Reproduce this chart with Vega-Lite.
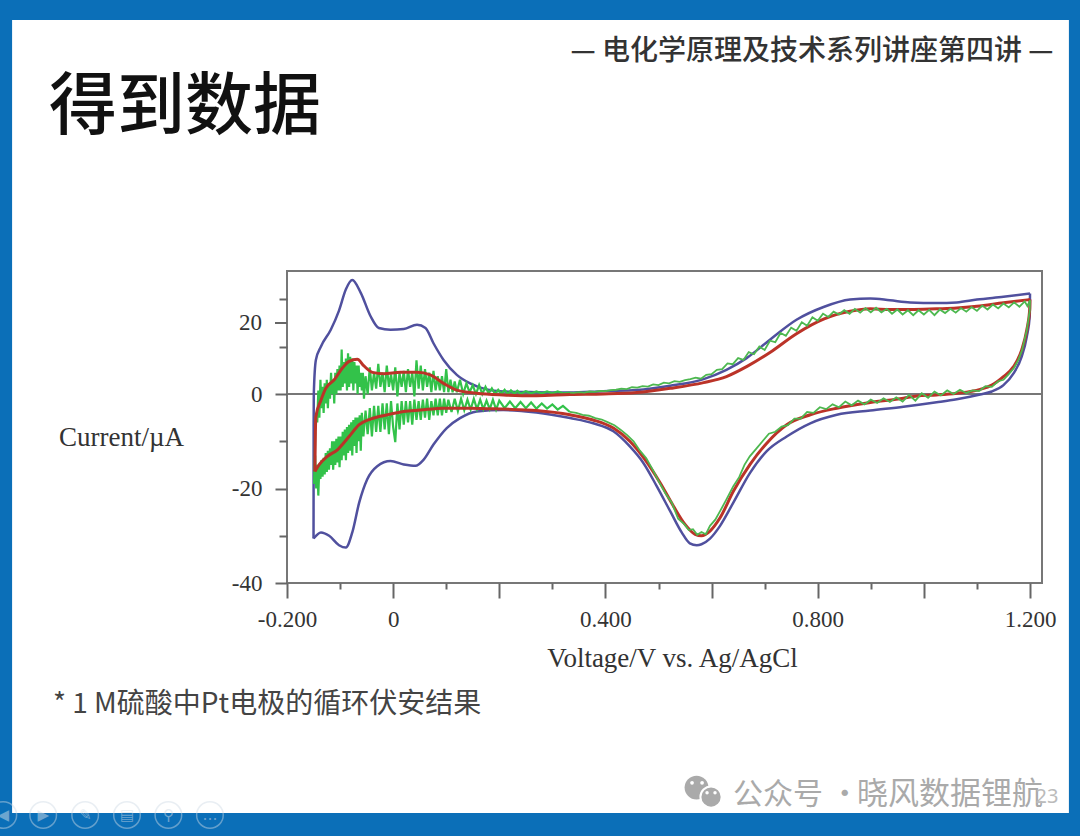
{
"$schema":"https://vega.github.io/schema/vega-lite/v6.json",
"width":755,"height":312,
"autosize":{"type":"none"},
"padding":{"left":287,"top":271,"right":38,"bottom":253},
"background":"#0b6fb8",
"config":{"view":{"stroke":null}},
"datasets":{
"one":[{"a":1}],
"blue":[
{"sweep":"up","v":-0.15,"i":-30.6},{"sweep":"up","v":-0.1499,"i":-20.9},{"sweep":"up","v":-0.1498,"i":-6.9},{"sweep":"up","v":-0.1495,"i":0},{"sweep":"up","v":-0.1456,"i":9.6},{"sweep":"up","v":-0.136,"i":13.4},{"sweep":"up","v":-0.1175,"i":18.1},{"sweep":"up","v":-0.102,"i":23.5},{"sweep":"up","v":-0.089,"i":29.5},{"sweep":"up","v":-0.077,"i":32.1},{"sweep":"up","v":-0.061,"i":28.5},{"sweep":"up","v":-0.0425,"i":21.9},{"sweep":"up","v":-0.027,"i":18.6},{"sweep":"up","v":-0.005,"i":18.1},{"sweep":"up","v":0.02,"i":18.3},{"sweep":"up","v":0.045,"i":19.5},{"sweep":"up","v":0.061,"i":18.6},{"sweep":"up","v":0.076,"i":14.3},{"sweep":"up","v":0.095,"i":9.6},{"sweep":"up","v":0.12,"i":5.4},{"sweep":"up","v":0.145,"i":3},{"sweep":"up","v":0.176,"i":1.3},{"sweep":"up","v":0.2075,"i":0.7},{"sweep":"up","v":0.27,"i":0.5},{"sweep":"up","v":0.3333,"i":0.4},{"sweep":"up","v":0.396,"i":0.8},{"sweep":"up","v":0.459,"i":1.1},{"sweep":"up","v":0.522,"i":2.3},{"sweep":"up","v":0.585,"i":4.2},{"sweep":"up","v":0.628,"i":6.8},{"sweep":"up","v":0.666,"i":10.1},{"sweep":"up","v":0.71,"i":15.3},{"sweep":"up","v":0.76,"i":20.9},{"sweep":"up","v":0.811,"i":24.5},{"sweep":"up","v":0.861,"i":26.6},{"sweep":"up","v":0.899,"i":26.9},{"sweep":"up","v":0.936,"i":26.4},{"sweep":"up","v":0.974,"i":25.8},{"sweep":"up","v":1.024,"i":25.6},{"sweep":"up","v":1.062,"i":25.8},{"sweep":"up","v":1.1,"i":26.6},{"sweep":"up","v":1.15,"i":27.4},{"sweep":"up","v":1.2,"i":28.3},
{"sweep":"down","v":-0.15,"i":-30.6},{"sweep":"down","v":-0.136,"i":-29.3},{"sweep":"down","v":-0.1206,"i":-30},{"sweep":"down","v":-0.102,"i":-32},{"sweep":"down","v":-0.089,"i":-32.5},{"sweep":"down","v":-0.077,"i":-29.3},{"sweep":"down","v":-0.064,"i":-23},{"sweep":"down","v":-0.049,"i":-18.1},{"sweep":"down","v":-0.03,"i":-15.3},{"sweep":"down","v":-0.005,"i":-14.2},{"sweep":"down","v":0.02,"i":-14.9},{"sweep":"down","v":0.042,"i":-15.2},{"sweep":"down","v":0.0575,"i":-13.9},{"sweep":"down","v":0.076,"i":-10.7},{"sweep":"down","v":0.101,"i":-7.2},{"sweep":"down","v":0.126,"i":-5.1},{"sweep":"down","v":0.1575,"i":-3.7},{"sweep":"down","v":0.2075,"i":-3.4},{"sweep":"down","v":0.27,"i":-3.9},{"sweep":"down","v":0.3333,"i":-5.1},{"sweep":"down","v":0.377,"i":-6.2},{"sweep":"down","v":0.415,"i":-7.9},{"sweep":"down","v":0.446,"i":-11.1},{"sweep":"down","v":0.4715,"i":-14.6},{"sweep":"down","v":0.4966,"i":-19.5},{"sweep":"down","v":0.522,"i":-24.8},{"sweep":"down","v":0.5437,"i":-29.3},{"sweep":"down","v":0.559,"i":-31.6},{"sweep":"down","v":0.572,"i":-32},{"sweep":"down","v":0.581,"i":-31.8},{"sweep":"down","v":0.597,"i":-30.6},{"sweep":"down","v":0.616,"i":-27.9},{"sweep":"down","v":0.641,"i":-23},{"sweep":"down","v":0.6725,"i":-16.7},{"sweep":"down","v":0.704,"i":-12.1},{"sweep":"down","v":0.7416,"i":-9},{"sweep":"down","v":0.786,"i":-6.2},{"sweep":"down","v":0.836,"i":-4.4},{"sweep":"down","v":0.899,"i":-3.5},{"sweep":"down","v":0.9615,"i":-2.7},{"sweep":"down","v":1.024,"i":-1.75},{"sweep":"down","v":1.062,"i":-1.1},{"sweep":"down","v":1.106,"i":-0.1},{"sweep":"down","v":1.128,"i":0.7},{"sweep":"down","v":1.15,"i":2.5},{"sweep":"down","v":1.169,"i":5.8},{"sweep":"down","v":1.1845,"i":10.6},{"sweep":"down","v":1.194,"i":16.2},{"sweep":"down","v":1.1995,"i":21.9},{"sweep":"down","v":1.2,"i":28.3}
],
"red":[
{"sweep":"up","v":-0.1475,"i":-16.4},{"sweep":"up","v":-0.1465,"i":-8},{"sweep":"up","v":-0.1456,"i":-4.8},{"sweep":"up","v":-0.136,"i":-1.3},{"sweep":"up","v":-0.127,"i":1.6},{"sweep":"up","v":-0.111,"i":4},{"sweep":"up","v":-0.0956,"i":7.3},{"sweep":"up","v":-0.083,"i":9.2},{"sweep":"up","v":-0.0675,"i":9.8},{"sweep":"up","v":-0.055,"i":7.9},{"sweep":"up","v":-0.039,"i":6.1},{"sweep":"up","v":-0.0175,"i":5.7},{"sweep":"up","v":0.014,"i":6.1},{"sweep":"up","v":0.045,"i":6.1},{"sweep":"up","v":0.07,"i":5.4},{"sweep":"up","v":0.095,"i":3},{"sweep":"up","v":0.12,"i":1.1},{"sweep":"up","v":0.1575,"i":0.2},{"sweep":"up","v":0.2075,"i":-0.2},{"sweep":"up","v":0.27,"i":-0.35},{"sweep":"up","v":0.3333,"i":-0.1},{"sweep":"up","v":0.396,"i":0},{"sweep":"up","v":0.459,"i":0.4},{"sweep":"up","v":0.522,"i":1.6},{"sweep":"up","v":0.585,"i":3.2},{"sweep":"up","v":0.628,"i":4.9},{"sweep":"up","v":0.666,"i":7.7},{"sweep":"up","v":0.71,"i":11.7},{"sweep":"up","v":0.76,"i":17},{"sweep":"up","v":0.811,"i":21.1},{"sweep":"up","v":0.861,"i":23.3},{"sweep":"up","v":0.899,"i":24},{"sweep":"up","v":0.936,"i":23.8},{"sweep":"up","v":0.974,"i":23.8},{"sweep":"up","v":1.024,"i":24},{"sweep":"up","v":1.062,"i":24.2},{"sweep":"up","v":1.1,"i":24.7},{"sweep":"up","v":1.15,"i":25.7},{"sweep":"up","v":1.2,"i":26.6},
{"sweep":"down","v":-0.1475,"i":-16.4},{"sweep":"down","v":-0.139,"i":-14.9},{"sweep":"down","v":-0.124,"i":-13.2},{"sweep":"down","v":-0.105,"i":-11.8},{"sweep":"down","v":-0.083,"i":-9},{"sweep":"down","v":-0.064,"i":-6.5},{"sweep":"down","v":-0.0425,"i":-5.3},{"sweep":"down","v":-0.011,"i":-4.4},{"sweep":"down","v":0.02,"i":-3.7},{"sweep":"down","v":0.051,"i":-3.4},{"sweep":"down","v":0.095,"i":-3},{"sweep":"down","v":0.145,"i":-3},{"sweep":"down","v":0.2075,"i":-3.2},{"sweep":"down","v":0.27,"i":-3.5},{"sweep":"down","v":0.3333,"i":-4.4},{"sweep":"down","v":0.377,"i":-5.5},{"sweep":"down","v":0.415,"i":-7.2},{"sweep":"down","v":0.446,"i":-10},{"sweep":"down","v":0.4746,"i":-13.9},{"sweep":"down","v":0.503,"i":-18.8},{"sweep":"down","v":0.528,"i":-23.7},{"sweep":"down","v":0.55,"i":-27.6},{"sweep":"down","v":0.569,"i":-29.7},{"sweep":"down","v":0.581,"i":-30},{"sweep":"down","v":0.597,"i":-29},{"sweep":"down","v":0.616,"i":-26.2},{"sweep":"down","v":0.641,"i":-20.6},{"sweep":"down","v":0.6725,"i":-14.9},{"sweep":"down","v":0.704,"i":-10.4},{"sweep":"down","v":0.7416,"i":-6.5},{"sweep":"down","v":0.786,"i":-4.4},{"sweep":"down","v":0.836,"i":-3},{"sweep":"down","v":0.899,"i":-1.8},{"sweep":"down","v":0.9615,"i":-0.9},{"sweep":"down","v":0.987,"i":-0.4},{"sweep":"down","v":1.024,"i":-0.2},{"sweep":"down","v":1.062,"i":0.2},{"sweep":"down","v":1.106,"i":1.3},{"sweep":"down","v":1.128,"i":2.5},{"sweep":"down","v":1.15,"i":4.9},{"sweep":"down","v":1.169,"i":7.7},{"sweep":"down","v":1.1845,"i":12.5},{"sweep":"down","v":1.194,"i":18.1},{"sweep":"down","v":1.1995,"i":23.8},{"sweep":"down","v":1.2,"i":26.6}
],
"greenLeft":[
{"sweep":"up","v":-0.149,"i":-19},{"sweep":"up","v":-0.148,"i":-18},{"sweep":"up","v":-0.147,"i":-8},{"sweep":"up","v":-0.145,"i":-4},{"sweep":"up","v":-0.143,"i":-6},{"sweep":"up","v":-0.141,"i":1},{"sweep":"up","v":-0.139,"i":-5},{"sweep":"up","v":-0.137,"i":4},{"sweep":"up","v":-0.135,"i":-3},{"sweep":"up","v":-0.133,"i":2},{"sweep":"up","v":-0.131,"i":-4},{"sweep":"up","v":-0.129,"i":3},{"sweep":"up","v":-0.127,"i":-2},{"sweep":"up","v":-0.125,"i":4},{"sweep":"up","v":-0.123,"i":-3},{"sweep":"up","v":-0.121,"i":3},{"sweep":"up","v":-0.119,"i":-1},{"sweep":"up","v":-0.117,"i":6},{"sweep":"up","v":-0.115,"i":0},{"sweep":"up","v":-0.113,"i":4},{"sweep":"up","v":-0.111,"i":-2},{"sweep":"up","v":-0.109,"i":6},{"sweep":"up","v":-0.107,"i":0},{"sweep":"up","v":-0.105,"i":7},{"sweep":"up","v":-0.103,"i":1},{"sweep":"up","v":-0.101,"i":8},{"sweep":"up","v":-0.099,"i":1},{"sweep":"up","v":-0.097,"i":12.5},{"sweep":"up","v":-0.095,"i":2},{"sweep":"up","v":-0.093,"i":9},{"sweep":"up","v":-0.091,"i":3},{"sweep":"up","v":-0.089,"i":10},{"sweep":"up","v":-0.087,"i":1},{"sweep":"up","v":-0.085,"i":11.5},{"sweep":"up","v":-0.083,"i":2},{"sweep":"up","v":-0.081,"i":10.5},{"sweep":"up","v":-0.079,"i":3},{"sweep":"up","v":-0.077,"i":10},{"sweep":"up","v":-0.075,"i":1},{"sweep":"up","v":-0.073,"i":9},{"sweep":"up","v":-0.071,"i":3},{"sweep":"up","v":-0.069,"i":8},{"sweep":"up","v":-0.067,"i":0},{"sweep":"up","v":-0.065,"i":8},{"sweep":"up","v":-0.063,"i":2},{"sweep":"up","v":-0.061,"i":6},{"sweep":"up","v":-0.059,"i":1},{"sweep":"up","v":-0.057,"i":6},{"sweep":"up","v":-0.055,"i":-1},{"sweep":"up","v":-0.052,"i":5},{"sweep":"up","v":-0.048,"i":0},{"sweep":"up","v":-0.044,"i":7.5},{"sweep":"up","v":-0.04,"i":1},{"sweep":"up","v":-0.036,"i":6},{"sweep":"up","v":-0.032,"i":1.5},{"sweep":"up","v":-0.028,"i":8.5},{"sweep":"up","v":-0.024,"i":2},{"sweep":"up","v":-0.02,"i":6},{"sweep":"up","v":-0.016,"i":0.5},{"sweep":"up","v":-0.012,"i":8},{"sweep":"up","v":-0.008,"i":2},{"sweep":"up","v":-0.004,"i":5.5},{"sweep":"up","v":0,"i":1},{"sweep":"up","v":0.004,"i":7.5},{"sweep":"up","v":0.008,"i":-0.5},{"sweep":"up","v":0.012,"i":6},{"sweep":"up","v":0.016,"i":2},{"sweep":"up","v":0.02,"i":6.5},{"sweep":"up","v":0.024,"i":0.5},{"sweep":"up","v":0.028,"i":7},{"sweep":"up","v":0.032,"i":2},{"sweep":"up","v":0.036,"i":6},{"sweep":"up","v":0.04,"i":-0.5},{"sweep":"up","v":0.044,"i":9.5},{"sweep":"up","v":0.048,"i":1.5},{"sweep":"up","v":0.052,"i":8},{"sweep":"up","v":0.056,"i":1},{"sweep":"up","v":0.06,"i":7},{"sweep":"up","v":0.064,"i":2},{"sweep":"up","v":0.068,"i":6},{"sweep":"up","v":0.072,"i":0.5},{"sweep":"up","v":0.076,"i":6.5},{"sweep":"up","v":0.08,"i":1},{"sweep":"up","v":0.084,"i":5},{"sweep":"up","v":0.088,"i":1},{"sweep":"up","v":0.092,"i":5},{"sweep":"up","v":0.096,"i":0.5},{"sweep":"up","v":0.1,"i":7},{"sweep":"up","v":0.104,"i":0.5},{"sweep":"up","v":0.108,"i":4},{"sweep":"up","v":0.112,"i":0.5},{"sweep":"up","v":0.116,"i":3.5},{"sweep":"up","v":0.12,"i":0.5},{"sweep":"up","v":0.126,"i":4},{"sweep":"up","v":0.132,"i":0},{"sweep":"up","v":0.138,"i":3},{"sweep":"up","v":0.144,"i":0.5},{"sweep":"up","v":0.15,"i":2.5},{"sweep":"up","v":0.156,"i":0},{"sweep":"up","v":0.162,"i":2.5},{"sweep":"up","v":0.168,"i":0},{"sweep":"up","v":0.174,"i":2},{"sweep":"up","v":0.18,"i":0.2},{"sweep":"up","v":0.186,"i":1.6},{"sweep":"up","v":0.192,"i":0},{"sweep":"up","v":0.198,"i":1.2},{"sweep":"up","v":0.204,"i":0.1},{"sweep":"up","v":0.21,"i":1.2},{"sweep":"up","v":0.216,"i":0},{"sweep":"up","v":0.222,"i":1},{"sweep":"up","v":0.228,"i":0.1},{"sweep":"up","v":0.234,"i":0.9},{"sweep":"up","v":0.24,"i":0.1},{"sweep":"up","v":0.25,"i":0.8},{"sweep":"up","v":0.26,"i":0.2},{"sweep":"up","v":0.27,"i":0.7},{"sweep":"up","v":0.28,"i":0.2},{"sweep":"up","v":0.29,"i":0.7},{"sweep":"up","v":0.3,"i":0.2},{"sweep":"up","v":0.31,"i":0.7},{"sweep":"up","v":0.32,"i":0.2},{"sweep":"up","v":0.333,"i":0.4},
{"sweep":"down","v":-0.149,"i":-19},{"sweep":"down","v":-0.147,"i":-13},{"sweep":"down","v":-0.145,"i":-20},{"sweep":"down","v":-0.143,"i":-15},{"sweep":"down","v":-0.141,"i":-21.5},{"sweep":"down","v":-0.139,"i":-15},{"sweep":"down","v":-0.137,"i":-18},{"sweep":"down","v":-0.135,"i":-14},{"sweep":"down","v":-0.133,"i":-17.5},{"sweep":"down","v":-0.131,"i":-13.5},{"sweep":"down","v":-0.129,"i":-17},{"sweep":"down","v":-0.127,"i":-12.5},{"sweep":"down","v":-0.125,"i":-16.5},{"sweep":"down","v":-0.123,"i":-12},{"sweep":"down","v":-0.121,"i":-16},{"sweep":"down","v":-0.119,"i":-11.5},{"sweep":"down","v":-0.117,"i":-15},{"sweep":"down","v":-0.115,"i":-10},{"sweep":"down","v":-0.113,"i":-16},{"sweep":"down","v":-0.111,"i":-10},{"sweep":"down","v":-0.109,"i":-15},{"sweep":"down","v":-0.107,"i":-9.5},{"sweep":"down","v":-0.105,"i":-14.5},{"sweep":"down","v":-0.103,"i":-9},{"sweep":"down","v":-0.101,"i":-15.5},{"sweep":"down","v":-0.099,"i":-9},{"sweep":"down","v":-0.097,"i":-14},{"sweep":"down","v":-0.095,"i":-8},{"sweep":"down","v":-0.093,"i":-13},{"sweep":"down","v":-0.091,"i":-7.5},{"sweep":"down","v":-0.089,"i":-14},{"sweep":"down","v":-0.087,"i":-7},{"sweep":"down","v":-0.085,"i":-12.5},{"sweep":"down","v":-0.083,"i":-6.5},{"sweep":"down","v":-0.081,"i":-12},{"sweep":"down","v":-0.079,"i":-6},{"sweep":"down","v":-0.077,"i":-13},{"sweep":"down","v":-0.075,"i":-5.5},{"sweep":"down","v":-0.073,"i":-11},{"sweep":"down","v":-0.071,"i":-5},{"sweep":"down","v":-0.069,"i":-12.5},{"sweep":"down","v":-0.067,"i":-5},{"sweep":"down","v":-0.065,"i":-10},{"sweep":"down","v":-0.063,"i":-4.5},{"sweep":"down","v":-0.061,"i":-12},{"sweep":"down","v":-0.059,"i":-4},{"sweep":"down","v":-0.056,"i":-9},{"sweep":"down","v":-0.052,"i":-3.5},{"sweep":"down","v":-0.048,"i":-8.5},{"sweep":"down","v":-0.044,"i":-3},{"sweep":"down","v":-0.04,"i":-9},{"sweep":"down","v":-0.036,"i":-2.5},{"sweep":"down","v":-0.032,"i":-8},{"sweep":"down","v":-0.028,"i":-2.5},{"sweep":"down","v":-0.024,"i":-8},{"sweep":"down","v":-0.02,"i":-2},{"sweep":"down","v":-0.016,"i":-7.5},{"sweep":"down","v":-0.012,"i":-2},{"sweep":"down","v":-0.008,"i":-8.5},{"sweep":"down","v":-0.004,"i":-1.5},{"sweep":"down","v":0,"i":-7},{"sweep":"down","v":0.004,"i":-10.2},{"sweep":"down","v":0.008,"i":-2},{"sweep":"down","v":0.012,"i":-7.5},{"sweep":"down","v":0.016,"i":-1.5},{"sweep":"down","v":0.02,"i":-6.5},{"sweep":"down","v":0.024,"i":-1.5},{"sweep":"down","v":0.028,"i":-6},{"sweep":"down","v":0.032,"i":-1.5},{"sweep":"down","v":0.036,"i":-6.5},{"sweep":"down","v":0.04,"i":-1.2},{"sweep":"down","v":0.044,"i":-5.5},{"sweep":"down","v":0.048,"i":-1.5},{"sweep":"down","v":0.052,"i":-5.5},{"sweep":"down","v":0.056,"i":-1.2},{"sweep":"down","v":0.06,"i":-5},{"sweep":"down","v":0.064,"i":-1},{"sweep":"down","v":0.068,"i":-5.5},{"sweep":"down","v":0.072,"i":-1.5},{"sweep":"down","v":0.076,"i":-4.5},{"sweep":"down","v":0.08,"i":-1},{"sweep":"down","v":0.084,"i":-4.5},{"sweep":"down","v":0.088,"i":-1},{"sweep":"down","v":0.092,"i":-4.5},{"sweep":"down","v":0.096,"i":-1},{"sweep":"down","v":0.1,"i":-4},{"sweep":"down","v":0.104,"i":-1.2},{"sweep":"down","v":0.11,"i":-3.8},{"sweep":"down","v":0.116,"i":-1},{"sweep":"down","v":0.122,"i":-3.6},{"sweep":"down","v":0.128,"i":-1},{"sweep":"down","v":0.134,"i":-3.4},{"sweep":"down","v":0.14,"i":-1.2},{"sweep":"down","v":0.146,"i":-3.3},{"sweep":"down","v":0.152,"i":-1},{"sweep":"down","v":0.158,"i":-3.2},{"sweep":"down","v":0.164,"i":-1.2},{"sweep":"down","v":0.17,"i":-3.2},{"sweep":"down","v":0.176,"i":-1.4},{"sweep":"down","v":0.182,"i":-3.2},{"sweep":"down","v":0.188,"i":-1.2},{"sweep":"down","v":0.194,"i":-3.3},{"sweep":"down","v":0.2,"i":-1.4},{"sweep":"down","v":0.21,"i":-3},{"sweep":"down","v":0.22,"i":-1.6},{"sweep":"down","v":0.23,"i":-3},{"sweep":"down","v":0.24,"i":-1.7},{"sweep":"down","v":0.25,"i":-3},{"sweep":"down","v":0.26,"i":-1.8},{"sweep":"down","v":0.27,"i":-3.1},{"sweep":"down","v":0.28,"i":-2},{"sweep":"down","v":0.29,"i":-3.1},{"sweep":"down","v":0.3,"i":-2.2},{"sweep":"down","v":0.31,"i":-3.3},{"sweep":"down","v":0.32,"i":-2.5},{"sweep":"down","v":0.333,"i":-3.8}
],
"greenRight":[
{"sweep":"up","v":0.333,"i":0.4},{"sweep":"up","v":0.34,"i":0.3},{"sweep":"up","v":0.35,"i":0.5},{"sweep":"up","v":0.36,"i":0.4},{"sweep":"up","v":0.37,"i":0.7},{"sweep":"up","v":0.38,"i":0.6},{"sweep":"up","v":0.39,"i":0.9},{"sweep":"up","v":0.4,"i":0.8},{"sweep":"up","v":0.41,"i":1.1},{"sweep":"up","v":0.42,"i":1.2},{"sweep":"up","v":0.43,"i":1.5},{"sweep":"up","v":0.44,"i":1.4},{"sweep":"up","v":0.45,"i":1.9},{"sweep":"up","v":0.46,"i":1.8},{"sweep":"up","v":0.47,"i":2.2},{"sweep":"up","v":0.48,"i":2.1},{"sweep":"up","v":0.49,"i":2.7},{"sweep":"up","v":0.5,"i":2.5},{"sweep":"up","v":0.51,"i":3.2},{"sweep":"up","v":0.52,"i":3},{"sweep":"up","v":0.53,"i":3.6},{"sweep":"up","v":0.54,"i":3.4},{"sweep":"up","v":0.55,"i":3.9},{"sweep":"up","v":0.56,"i":4.2},{"sweep":"up","v":0.57,"i":4.6},{"sweep":"up","v":0.58,"i":4.3},{"sweep":"up","v":0.59,"i":5.4},{"sweep":"up","v":0.6,"i":5.6},{"sweep":"up","v":0.61,"i":6.8},{"sweep":"up","v":0.62,"i":7},{"sweep":"up","v":0.63,"i":8.6},{"sweep":"up","v":0.64,"i":8.4},{"sweep":"up","v":0.65,"i":10.1},{"sweep":"up","v":0.66,"i":9.6},{"sweep":"up","v":0.67,"i":11.8},{"sweep":"up","v":0.68,"i":11.2},{"sweep":"up","v":0.69,"i":13.4},{"sweep":"up","v":0.7,"i":12.4},{"sweep":"up","v":0.71,"i":15},{"sweep":"up","v":0.72,"i":14.6},{"sweep":"up","v":0.73,"i":17.2},{"sweep":"up","v":0.74,"i":16.4},{"sweep":"up","v":0.75,"i":18.7},{"sweep":"up","v":0.76,"i":17.8},{"sweep":"up","v":0.77,"i":20.2},{"sweep":"up","v":0.78,"i":19.2},{"sweep":"up","v":0.79,"i":21.6},{"sweep":"up","v":0.8,"i":20.6},{"sweep":"up","v":0.81,"i":22.6},{"sweep":"up","v":0.82,"i":21.7},{"sweep":"up","v":0.83,"i":23.2},{"sweep":"up","v":0.84,"i":22.4},{"sweep":"up","v":0.85,"i":23.6},{"sweep":"up","v":0.86,"i":22.6},{"sweep":"up","v":0.87,"i":24},{"sweep":"up","v":0.88,"i":22.9},{"sweep":"up","v":0.89,"i":24.2},{"sweep":"up","v":0.9,"i":23},{"sweep":"up","v":0.91,"i":24.3},{"sweep":"up","v":0.92,"i":23},{"sweep":"up","v":0.93,"i":24},{"sweep":"up","v":0.94,"i":22.6},{"sweep":"up","v":0.95,"i":23.8},{"sweep":"up","v":0.96,"i":22.4},{"sweep":"up","v":0.97,"i":23.6},{"sweep":"up","v":0.98,"i":22.2},{"sweep":"up","v":0.99,"i":23.6},{"sweep":"up","v":1,"i":22.4},{"sweep":"up","v":1.01,"i":23.7},{"sweep":"up","v":1.02,"i":22.2},{"sweep":"up","v":1.03,"i":23.8},{"sweep":"up","v":1.04,"i":22.8},{"sweep":"up","v":1.05,"i":24},{"sweep":"up","v":1.06,"i":22.9},{"sweep":"up","v":1.07,"i":24.2},{"sweep":"up","v":1.08,"i":23.2},{"sweep":"up","v":1.09,"i":24.5},{"sweep":"up","v":1.1,"i":23.4},{"sweep":"up","v":1.11,"i":24.9},{"sweep":"up","v":1.12,"i":23.8},{"sweep":"up","v":1.13,"i":25.2},{"sweep":"up","v":1.14,"i":24.1},{"sweep":"up","v":1.15,"i":25.5},{"sweep":"up","v":1.16,"i":24.4},{"sweep":"up","v":1.17,"i":25.8},{"sweep":"up","v":1.18,"i":24.6},{"sweep":"up","v":1.19,"i":26.1},{"sweep":"up","v":1.195,"i":24.8},{"sweep":"up","v":1.2,"i":26.4},
{"sweep":"down","v":0.333,"i":-3.8},{"sweep":"down","v":0.345,"i":-4},{"sweep":"down","v":0.357,"i":-4.4},{"sweep":"down","v":0.369,"i":-4.6},{"sweep":"down","v":0.381,"i":-5.1},{"sweep":"down","v":0.393,"i":-5.4},{"sweep":"down","v":0.405,"i":-6},{"sweep":"down","v":0.417,"i":-6.6},{"sweep":"down","v":0.429,"i":-7.6},{"sweep":"down","v":0.441,"i":-8.7},{"sweep":"down","v":0.453,"i":-10},{"sweep":"down","v":0.465,"i":-12},{"sweep":"down","v":0.477,"i":-13.6},{"sweep":"down","v":0.489,"i":-16},{"sweep":"down","v":0.501,"i":-18.6},{"sweep":"down","v":0.513,"i":-21},{"sweep":"down","v":0.525,"i":-23},{"sweep":"down","v":0.537,"i":-26.4},{"sweep":"down","v":0.549,"i":-27.6},{"sweep":"down","v":0.557,"i":-28.8},{"sweep":"down","v":0.565,"i":-28.6},{"sweep":"down","v":0.573,"i":-29.8},{"sweep":"down","v":0.581,"i":-29.2},{"sweep":"down","v":0.589,"i":-29.7},{"sweep":"down","v":0.597,"i":-27.9},{"sweep":"down","v":0.607,"i":-26.6},{"sweep":"down","v":0.616,"i":-24.8},{"sweep":"down","v":0.628,"i":-22.3},{"sweep":"down","v":0.641,"i":-19.5},{"sweep":"down","v":0.652,"i":-17.6},{"sweep":"down","v":0.662,"i":-15},{"sweep":"down","v":0.672,"i":-13.2},{"sweep":"down","v":0.684,"i":-11.6},{"sweep":"down","v":0.696,"i":-10},{"sweep":"down","v":0.708,"i":-8.4},{"sweep":"down","v":0.72,"i":-8},{"sweep":"down","v":0.732,"i":-6.9},{"sweep":"down","v":0.744,"i":-6.6},{"sweep":"down","v":0.756,"i":-5.2},{"sweep":"down","v":0.768,"i":-5.2},{"sweep":"down","v":0.78,"i":-3.8},{"sweep":"down","v":0.792,"i":-4},{"sweep":"down","v":0.804,"i":-2.8},{"sweep":"down","v":0.816,"i":-3.2},{"sweep":"down","v":0.828,"i":-2.2},{"sweep":"down","v":0.84,"i":-2.8},{"sweep":"down","v":0.852,"i":-1.6},{"sweep":"down","v":0.864,"i":-2.4},{"sweep":"down","v":0.876,"i":-1.4},{"sweep":"down","v":0.888,"i":-2.2},{"sweep":"down","v":0.9,"i":-1.2},{"sweep":"down","v":0.912,"i":-1.9},{"sweep":"down","v":0.924,"i":-0.9},{"sweep":"down","v":0.936,"i":-1.7},{"sweep":"down","v":0.948,"i":-0.7},{"sweep":"down","v":0.96,"i":-1.6},{"sweep":"down","v":0.972,"i":-0.2},{"sweep":"down","v":0.984,"i":-1.4},{"sweep":"down","v":0.996,"i":0.2},{"sweep":"down","v":1.008,"i":-0.8},{"sweep":"down","v":1.02,"i":0.7},{"sweep":"down","v":1.032,"i":-0.3},{"sweep":"down","v":1.044,"i":1},{"sweep":"down","v":1.056,"i":0},{"sweep":"down","v":1.068,"i":1.2},{"sweep":"down","v":1.08,"i":0.3},{"sweep":"down","v":1.092,"i":1},{"sweep":"down","v":1.104,"i":0.8},{"sweep":"down","v":1.116,"i":2.2},{"sweep":"down","v":1.128,"i":2},{"sweep":"down","v":1.14,"i":3.6},{"sweep":"down","v":1.15,"i":4},{"sweep":"down","v":1.16,"i":5.6},{"sweep":"down","v":1.17,"i":7.4},{"sweep":"down","v":1.178,"i":9.6},{"sweep":"down","v":1.185,"i":12.3},{"sweep":"down","v":1.194,"i":18},{"sweep":"down","v":1.1995,"i":23.5},{"sweep":"down","v":1.2,"i":26.4}
],
"buttons":[
{"v":-0.7345,"i":-89.1,"glyph":"◀"},{"v":-0.6594,"i":-89.1,"glyph":"▶"},{"v":-0.5803,"i":-89.1,"glyph":"✎"},{"v":-0.5015,"i":-89.1,"glyph":"▤"},{"v":-0.4235,"i":-89.1,"glyph":"⚲"},{"v":-0.3452,"i":-89.1,"glyph":"…"}
]
},
"layer":[
{"data":{"name":"one"},"mark":{"type":"rect","fill":"#ffffff"},"encoding":{"x":{"datum":-0.718,"type":"quantitative","scale":{"domain":[-0.2,1.2226],"nice":false,"zero":false}},"x2":{"datum":1.2733},"y":{"datum":105.35,"type":"quantitative","scale":{"domain":[-40,0,20,34.65],"range":[312,123,52,0],"nice":false,"zero":false}},"y2":{"datum":-88.68}}},
{"data":{"name":"one"},"mark":{"type":"text","font":"Noto Sans CJK SC","fontSize":68,"fontWeight":500,"color":"#111","align":"center","baseline":"middle"},"encoding":{"x":{"datum":-0.392,"type":"quantitative"},"y":{"datum":80.3,"type":"quantitative"},"text":{"value":"得到数据"}}},
{"data":{"name":"one"},"mark":{"type":"text","font":"Noto Sans CJK SC","fontSize":28,"fontWeight":500,"color":"#333","align":"center","baseline":"middle"},"encoding":{"x":{"datum":0.789,"type":"quantitative"},"y":{"datum":96.3,"type":"quantitative"},"text":{"value":"— 电化学原理及技术系列讲座第四讲 —"}}},
{"data":{"name":"one"},"mark":{"type":"text","font":"Noto Sans CJK SC","fontSize":28,"color":"#444","align":"left","baseline":"middle"},"encoding":{"x":{"datum":-0.641,"type":"quantitative"},"y":{"datum":-65.8,"type":"quantitative"},"text":{"value":"* 1 M硫酸中Pt电极的循环伏安结果"}}},
{"data":{"name":"one"},"mark":{"type":"text","font":"Noto Sans CJK SC","fontSize":30,"color":"#aaaaaa","align":"left","baseline":"middle"},"encoding":{"x":{"datum":0.6405,"type":"quantitative"},"y":{"datum":-84.9,"type":"quantitative"},"text":{"value":"公众号 ·"}}},
{"data":{"name":"one"},"mark":{"type":"text","font":"Noto Sans CJK SC","fontSize":31,"color":"#aaaaaa","align":"left","baseline":"middle"},"encoding":{"x":{"datum":0.8741,"type":"quantitative"},"y":{"datum":-84.9,"type":"quantitative"},"text":{"value":"晓风数据锂航"}}},
{"data":{"name":"one"},"mark":{"type":"text","font":"Noto Sans","fontSize":20,"color":"#bbbbbb","align":"center","baseline":"middle"},"encoding":{"x":{"datum":1.232,"type":"quantitative"},"y":{"datum":-85.3,"type":"quantitative"},"text":{"value":"23"}}},
{"data":{"name":"one"},"mark":{"type":"point","filled":true,"color":"#aaaaaa","opacity":1,"size":572},"encoding":{"x":{"datum":0.5717,"type":"quantitative"},"y":{"datum":-83.3,"type":"quantitative"}}},
{"data":{"name":"one"},"mark":{"type":"point","filled":true,"color":"#aaaaaa","stroke":"#ffffff","strokeWidth":2,"opacity":1,"size":452},"encoding":{"x":{"datum":0.599,"type":"quantitative"},"y":{"datum":-85.3,"type":"quantitative"}}},
{"data":{"name":"one"},"mark":{"type":"point","filled":true,"color":"#ffffff","opacity":1,"size":14},"encoding":{"x":{"datum":0.5632,"type":"quantitative"},"y":{"datum":-82.3,"type":"quantitative"}}},
{"data":{"name":"one"},"mark":{"type":"point","filled":true,"color":"#ffffff","opacity":1,"size":14},"encoding":{"x":{"datum":0.5821,"type":"quantitative"},"y":{"datum":-82.3,"type":"quantitative"}}},
{"data":{"name":"one"},"mark":{"type":"point","filled":true,"color":"#ffffff","opacity":1,"size":12},"encoding":{"x":{"datum":0.5915,"type":"quantitative"},"y":{"datum":-84.4,"type":"quantitative"}}},
{"data":{"name":"one"},"mark":{"type":"point","filled":true,"color":"#ffffff","opacity":1,"size":12},"encoding":{"x":{"datum":0.6065,"type":"quantitative"},"y":{"datum":-84.4,"type":"quantitative"}}},
{"data":{"name":"buttons"},"mark":{"type":"point","filled":false,"stroke":"#cfdbe6","strokeWidth":1.5,"opacity":0.45,"size":707},"encoding":{"x":{"field":"v","type":"quantitative"},"y":{"field":"i","type":"quantitative"}}},
{"data":{"name":"buttons"},"mark":{"type":"text","font":"DejaVu Sans","fontSize":15,"color":"#cfdbe6","opacity":0.5},"encoding":{"x":{"field":"v","type":"quantitative"},"y":{"field":"i","type":"quantitative"},"text":{"field":"glyph"}}},
{"data":{"name":"one"},"mark":{"type":"rule","color":"#777","strokeWidth":2},"encoding":{"x":{"datum":-0.2,"type":"quantitative"},"x2":{"datum":1.2226},"y":{"datum":0,"type":"quantitative"}}},
{"data":{"name":"one"},"mark":{"type":"rect","fill":null,"stroke":"#777","strokeWidth":2},"encoding":{"x":{"datum":-0.2,"type":"quantitative"},"x2":{"datum":1.2226},"y":{"datum":-40,"type":"quantitative"},"y2":{"datum":34.65}}},
{"data":{"name":"blue"},"mark":{"type":"line","color":"#50509e","strokeWidth":2.5,"interpolate":"monotone"},"encoding":{"detail":{"field":"sweep"},
"x":{"field":"v","type":"quantitative","axis":{"title":"Voltage/V vs. Ag/AgCl","titleFont":"Liberation Serif","titleFontSize":27,"titleFontWeight":"normal","titleColor":"#333","titleX":385,"titleY":75,"titleAlign":"center","titleBaseline":"middle",
"values":[-0.2,-0.15,-0.1,-0.05,0,0.05,0.1,0.15,0.2,0.25,0.3,0.35,0.4,0.45,0.5,0.55,0.6,0.65,0.7,0.75,0.8,0.85,0.9,0.95,1,1.05,1.1,1.15,1.2],
"labelExpr":"abs(datum.value)<0.001 ? '0' : (abs(round(datum.value*1000))%400==0 || datum.value<-0.19 ? replace(format(datum.value,'.3f'),'−','-') : '')",
"labelFont":"Liberation Serif","labelFontSize":23,"labelColor":"#333","labelPadding":10,"labelOverlap":false,"labelFlush":false,"grid":false,"domain":false,"zindex":1,
"tickColor":"#666","tickWidth":2,"tickSize":{"condition":{"test":"abs(round(datum.value*1000))%200==0","value":15},"value":6}}},
"y":{"field":"i","type":"quantitative","axis":{"title":"Current/µA","titleFont":"Liberation Serif","titleFontSize":27,"titleFontWeight":"normal","titleColor":"#333","titleAngle":0,"titleX":-166,"titleY":166,"titleAlign":"center","titleBaseline":"middle",
"values":[-40,-35,-30,-25,-20,-15,-10,-5,0,6.667,13.333,20,26.667],
"labelExpr":"datum.value==0 ? '0' : datum.value==-20 ? '-20' : datum.value==-40 ? '-40' : ''",
"labelFont":"Liberation Serif","labelFontSize":23,"labelColor":"#333","labelPadding":13,"labelOverlap":false,"grid":false,"domain":false,"zindex":1,
"tickColor":"#666","tickWidth":2,"tickSize":{"condition":{"test":"datum.value==0 || datum.value==-20 || datum.value==-40","value":12},"value":8}}}}},
{"data":{"name":"greenLeft"},"mark":{"type":"line","color":"#33c24a","strokeWidth":2.2},"encoding":{"detail":{"field":"sweep"},"x":{"field":"v","type":"quantitative"},"y":{"field":"i","type":"quantitative"}}},
{"data":{"name":"red"},"mark":{"type":"line","color":"#bb3328","strokeWidth":3,"interpolate":"monotone"},"encoding":{"detail":{"field":"sweep"},"x":{"field":"v","type":"quantitative"},"y":{"field":"i","type":"quantitative"}}},
{"data":{"name":"greenRight"},"mark":{"type":"line","color":"#4db84f","strokeWidth":1.8},"encoding":{"detail":{"field":"sweep"},"x":{"field":"v","type":"quantitative"},"y":{"field":"i","type":"quantitative"}}},
{"data":{"name":"one"},"mark":{"type":"rule","color":"#666","strokeWidth":2},"encoding":{"x":{"datum":-0.2226,"type":"quantitative"},"x2":{"datum":-0.2},"y":{"datum":20,"type":"quantitative"}}},
{"data":{"name":"one"},"mark":{"type":"text","font":"Liberation Serif","fontSize":23,"color":"#333","align":"right","baseline":"middle"},"encoding":{"x":{"datum":-0.247,"type":"quantitative"},"y":{"datum":20,"type":"quantitative"},"text":{"value":"20"}}}
]
}
